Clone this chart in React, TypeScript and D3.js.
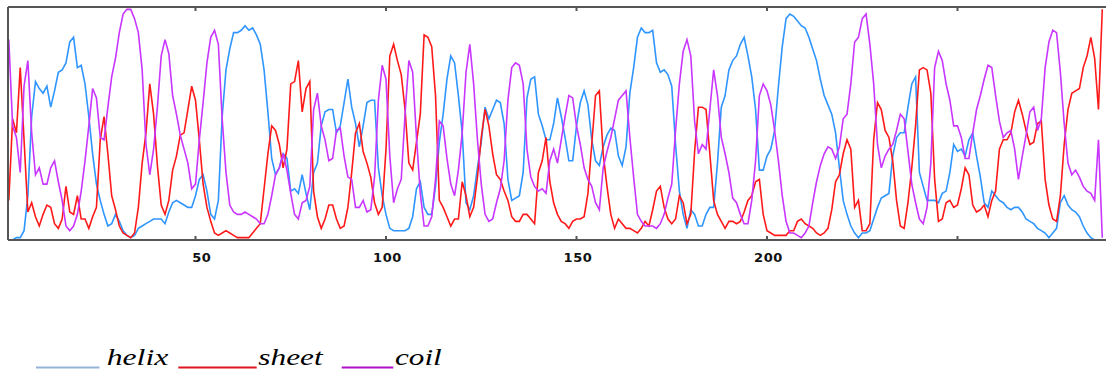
import React from "react";
import * as d3 from "d3";

// residue-wise probabilities (percent), residues 1..288
const helix = [
  0,0,1,1,4,19,53,68,65,63,
  66,57,64,72,73,76,85,87,74,75,
  67,53,37,24,17,11,6,7,11,8,
  4,2,1,2,5,6,7,8,9,9,
  9,7,12,16,17,16,15,14,14,19,
  26,28,21,11,9,17,53,73,82,89,
  89,90,92,90,91,88,84,73,55,35,
  28,31,37,35,21,22,20,28,20,13,
  29,33,49,55,56,56,46,49,59,69,
  57,50,40,49,59,60,60,31,19,11,
  5,4,4,4,4,5,10,22,25,14,
  11,11,23,42,54,69,79,76,62,46,
  16,13,19,31,42,57,52,56,60,59,
  50,26,17,18,19,29,61,69,70,54,
  49,43,43,50,61,53,44,34,34,49,
  59,64,58,43,34,32,40,45,48,47,
  36,32,40,63,74,87,91,89,89,90,
  76,72,73,71,66,41,21,11,5,13,
  11,6,6,11,14,14,33,57,62,73,
  77,79,84,87,79,70,56,30,30,36,
  39,47,66,83,95,97,96,94,92,91,
  87,82,77,69,62,58,54,46,31,17,
  11,6,3,1,3,3,4,9,14,18,
  19,20,36,44,46,46,57,67,70,29,
  23,17,17,17,16,20,21,29,41,38,
  39,36,43,46,36,27,16,14,21,19,
  17,16,14,13,14,14,12,9,8,7,
  5,4,3,1,3,5,16,19,15,13,
  12,10,6,3,1,0,0,0,
];

const sheet = [
  17,52,46,74,43,12,16,10,6,11,
  15,14,7,5,9,23,12,11,19,9,
  9,5,10,14,43,53,37,19,13,6,
  3,2,1,3,14,33,46,67,54,32,
  15,11,17,30,36,45,46,56,66,60,
  43,24,14,8,3,2,3,4,3,2,
  1,1,1,1,3,5,7,22,37,49,
  47,41,31,39,67,68,77,55,65,68,
  21,10,5,9,15,15,9,5,6,14,
  29,46,50,38,33,27,16,11,14,39,
  79,84,77,71,56,33,30,42,54,88,
  87,83,62,17,14,10,6,9,9,25,
  19,10,14,27,44,56,49,37,28,26,
  21,17,10,8,8,11,11,9,7,29,
  34,44,25,16,11,8,7,5,8,9,
  9,10,20,41,62,64,37,23,11,5,
  9,7,5,5,4,3,5,8,6,13,
  21,23,14,9,7,9,19,16,7,11,
  38,57,57,56,37,17,11,8,5,8,
  8,7,8,12,17,19,25,26,11,4,
  3,2,2,2,2,4,4,8,9,7,
  6,5,3,2,3,5,13,25,28,37,
  43,39,14,17,4,4,7,43,59,56,
  47,44,34,17,6,5,16,31,49,73,
  74,73,63,26,8,9,16,17,14,15,
  22,31,28,15,12,13,15,10,17,21,
  39,43,43,46,55,60,54,47,41,42,
  50,51,26,15,9,8,19,41,56,63,
  64,65,74,79,87,78,56,99,
];

const coil = [
  86,49,44,29,66,77,46,28,31,24,
  24,31,34,25,17,6,4,6,11,21,
  34,49,65,61,44,43,57,70,78,89,
  97,99,99,95,89,73,41,28,39,57,
  79,86,80,62,54,45,39,33,22,24,
  43,59,76,87,90,84,52,29,15,12,
  11,11,12,11,10,9,7,7,11,19,
  28,31,37,30,20,11,9,16,17,23,
  56,63,49,43,34,35,47,48,36,27,
  26,14,14,17,12,13,27,60,75,69,
  36,16,22,26,54,77,72,44,20,6,
  6,10,26,51,49,35,24,19,30,46,
  72,84,67,43,24,11,8,9,16,22,
  34,60,74,76,75,67,39,27,23,21,
  22,20,34,39,33,43,53,62,61,49,
  41,31,26,23,16,13,31,38,44,52,
  60,62,64,44,27,11,8,6,6,6,
  5,7,11,18,24,47,67,81,86,79,
  51,37,41,39,56,73,62,44,37,29,
  18,16,11,7,7,17,34,62,67,64,
  58,47,34,19,8,3,3,2,1,3,
  6,16,25,32,37,40,39,35,40,52,
  54,67,85,87,95,97,84,67,41,31,
  36,39,41,47,54,52,38,24,16,9,
  7,14,33,74,81,77,67,60,49,49,
  44,35,35,46,56,62,69,75,74,62,
  51,44,46,47,39,26,36,45,55,57,
  47,52,74,85,90,89,72,50,33,28,
  30,27,23,21,20,17,43,1,
];

const tickValues = [50, 100, 150, 200, 250];
const tickLabels = ["50", "100", "150", "200", ""];

const seriesColors = ["#2F95FF", "#FF1A1A", "#C836FF"];
const legendColors = ["#95B3D7", "#E0141E", "#B010C8"];
const legendNames = ["helix", "sheet", "coil"];

export default function App() {
  const W = 1106, H = 370;
  const left = 8, top = 7, bottom = 240;
  const x = d3.scaleLinear().domain([0, 288]).range([5, 5 + 3.81 * 288]);
  const y = d3.scaleLinear().domain([0, 100]).range([bottom, top]);
  const line = d3
    .line<number>()
    .x((_, i) => x(i + 1))
    .y((d) => y(d));
  const all = [helix, sheet, coil];

  const legendBars = [
    { x: 36, w: 63.5 },
    { x: 178.3, w: 78.4 },
    { x: 341.7, w: 51.6 },
  ];
  const legendText = [
    { x: 106.7, w: 61.6 },
    { x: 258.3, w: 64.4 },
    { x: 395, w: 46.7 },
  ];

  return (
    <svg
      width={W}
      height={H}
      style={{ position: "absolute", left: 0, top: 0, background: "#fff" }}
    >
      <defs>
        <clipPath id="plot">
          <rect x={left} y={top - 1} width={W - left + 2} height={bottom - top + 2} />
        </clipPath>
      </defs>
      <rect x={0} y={0} width={W} height={H} fill="#fff" />
      <g clipPath="url(#plot)">
        {all.map((s, k) => (
          <path
            key={k}
            d={line(s) || ""}
            fill="none"
            stroke={seriesColors[k]}
            strokeWidth={1.6}
          />
        ))}
      </g>
      <line x1={left} x2={W + 2} y1={top} y2={top} stroke="#555" strokeWidth={2} />
      <line x1={left} x2={W + 2} y1={bottom} y2={bottom} stroke="#555" strokeWidth={2} />
      <line x1={left} x2={left} y1={top} y2={bottom} stroke="#555" strokeWidth={2} />
      {tickValues.map((t, i) => (
        <g key={t}>
          <line x1={x(t)} x2={x(t)} y1={top} y2={top + 4} stroke="#555" strokeWidth={2} />
          <line x1={x(t)} x2={x(t)} y1={bottom - 4} y2={bottom} stroke="#555" strokeWidth={2} />
          {tickLabels[i] && (
            <text
              x={x(t) + 16}
              y={261.5}
              textAnchor="end"
              fontFamily="DejaVu Sans, sans-serif"
              fontWeight="bold"
              fontSize={13}
              letterSpacing={0.6}
              fill="#111"
            >
              {tickLabels[i]}
            </text>
          )}
        </g>
      ))}
      {legendNames.map((name, k) => (
        <g key={name}>
          <rect x={legendBars[k].x} y={366.5} width={legendBars[k].w} height={2} fill={legendColors[k]} />
          <text
            x={legendText[k].x}
            y={365}
            textLength={legendText[k].w}
            lengthAdjust="spacingAndGlyphs"
            style={{
              fontFamily: "'Liberation Serif', 'DejaVu Serif', serif",
              fontStyle: "italic",
              fontSize: "23px",
              fill: "#000",
            }}
          >
            {name}
          </text>
        </g>
      ))}
    </svg>
  );
}
